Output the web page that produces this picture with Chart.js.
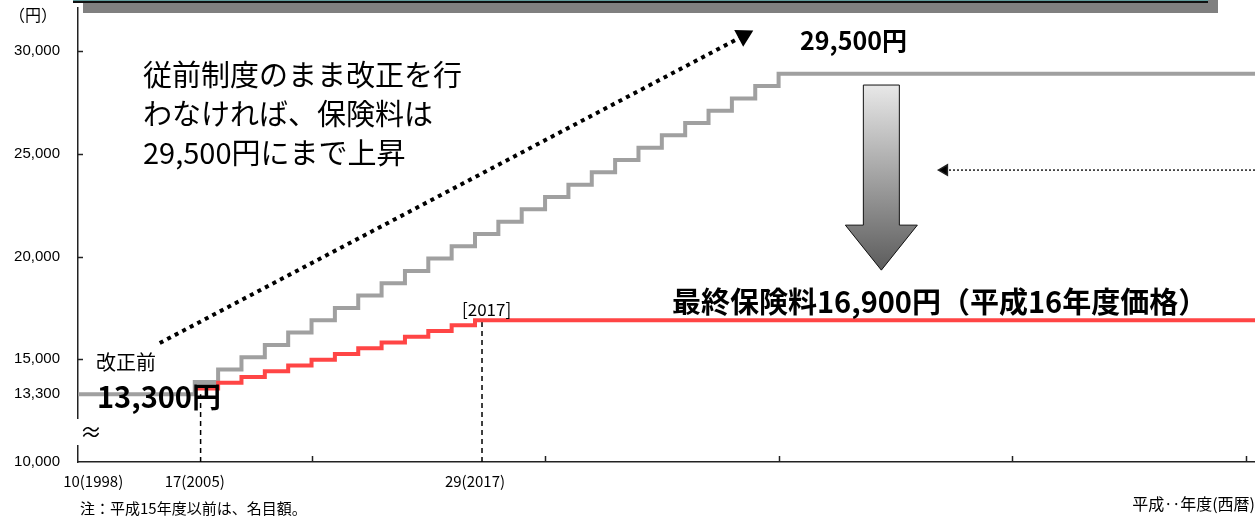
<!DOCTYPE html>
<html>
<head>
<meta charset="utf-8">
<title>保険料の推移</title>
<script src="https://cdn.jsdelivr.net/npm/chart.js"></script>
<style>
  html, body { margin: 0; padding: 0; background: #fff; overflow: hidden; }
  canvas { display: block; }
</style>
</head>
<body>
<canvas id="chart" width="1255" height="518"></canvas>
<script>
    // 従前制度 (改正しない場合) 年度ごとの保険料
    var oldYears  = [2000, 2005, 2006, 2007, 2008, 2009, 2010, 2011, 2012, 2013, 2014, 2015, 2016,
                     2017, 2018, 2019, 2020, 2021, 2022, 2023, 2024, 2025, 2026, 2027, 2028, 2029, 2030];
    var oldValues = [13300, 13900, 14500, 15100, 15700, 16300, 16900, 17500, 18100, 18700, 19300, 19900, 20500,
                     21100, 21700, 22300, 22900, 23500, 24100, 24700, 25300, 25900, 26500, 27100, 27700, 28300, 28900];

    // 改正後 年度ごとの保険料
    var newYears  = [2005, 2006, 2007, 2008, 2009, 2010, 2011, 2012, 2013, 2014, 2015, 2016, 2017];
    var newValues = [13580, 13860, 14140, 14420, 14700, 14980, 15260, 15540, 15820, 16100, 16380, 16660, 16900];

    // 軸
    var xEnd = 2050.4;
    var xTickPos = [2000.65, 2005, 2017];
    var xTickLabels = ['10(1998)', '17(2005)', '29(2017)'];
    var yTicks = [10000, 13300, 15000, 20000, 25000, 30000];

    var oldData = oldYears.map(function (y, i) { return {x: y, y: oldValues[i]}; });
    oldData.push({x: xEnd, y: oldValues[oldValues.length - 1]});
    var newData = newYears.map(function (y, i) { return {x: y, y: newValues[i]}; });
    newData.push({x: xEnd, y: newValues[newValues.length - 1]});

    var JP = '"Noto Sans CJK JP", "Noto Sans", sans-serif';

    var decor = {
        id: 'decor',
        beforeDraw: function (chart) {
            var c = chart.ctx;
            c.save();
            c.fillStyle = '#fff';
            c.fillRect(0, 0, chart.width, chart.height);
            // 上部の枠 (はみ出し部分)
            c.fillStyle = '#808080';
            c.fillRect(83, 0, 1135, 13);
            c.fillStyle = '#5f9a9a';
            c.fillRect(73, 0, 1135, 1);
            c.fillStyle = '#111';
            c.fillRect(73, 1, 1135, 2);
            c.restore();
        },
        afterDraw: function (chart) {
            var c = chart.ctx;
            var xs = chart.scales.x, ys = chart.scales.y;
            var a = chart.chartArea;
            c.save();

            // 内向きの目盛り
            c.strokeStyle = '#222';
            c.lineWidth = 1.5;
            [15000, 20000, 25000, 30000].forEach(function (v) {
                var py = Math.round(ys.getPixelForValue(v)) + 0.5;
                c.beginPath(); c.moveTo(a.left, py); c.lineTo(a.left + 5, py); c.stroke();
            });
            [2010, 2020, 2030, 2040, 2050].forEach(function (v) {
                var px = Math.round(xs.getPixelForValue(v)) + 0.5;
                c.beginPath(); c.moveTo(px, a.bottom); c.lineTo(px, a.bottom - 6); c.stroke();
            });

            // 軸の省略
            c.fillStyle = '#fff';
            c.fillRect(a.left - 4, 419, 8, 26);
            c.fillStyle = '#000';
            c.font = '22px ' + JP;
            c.textBaseline = 'middle';
            c.textAlign = 'left';
            c.fillText('≈', 80, 432);

            // 下向きの大きな矢印
            var cx = xs.getPixelForValue(2034.4);
            var top = ys.getPixelForValue(28350), neck = ys.getPixelForValue(21530), tip = ys.getPixelForValue(19340);
            var g = c.createLinearGradient(0, top, 0, tip);
            g.addColorStop(0, '#e8e8e8');
            g.addColorStop(1, '#5c5c5c');
            c.beginPath();
            c.moveTo(cx - 18, top); c.lineTo(cx + 18, top); c.lineTo(cx + 18, neck);
            c.lineTo(cx + 36, neck); c.lineTo(cx, tip); c.lineTo(cx - 36, neck);
            c.lineTo(cx - 18, neck); c.closePath();
            c.fillStyle = g; c.fill();
            c.strokeStyle = '#111'; c.lineWidth = 1; c.stroke();

            // 文字
            c.fillStyle = '#000';
            c.textAlign = 'left';
            c.textBaseline = 'middle';
            c.font = '16px ' + JP;
            c.fillText('（円）', 9, 15);

            c.font = '29px ' + JP;
            c.fillText('従前制度のまま改正を行', 143, 75);
            c.fillText('わなければ、保険料は', 143, 114);
            c.fillText('29,500円にまで上昇', 143, 153);

            c.font = 'bold 25px ' + JP;
            c.fillText('29,500円', 800, 40);

            c.font = 'bold 29px ' + JP;
            c.fillText('最終保険料16,900円（平成16年度価格）', 672, 302);

            c.font = '17px ' + JP;
            c.fillText('[2017]', 462, 310);

            c.font = '20px ' + JP;
            c.fillText('改正前', 96, 362);

            c.font = 'bold 29px ' + JP;
            c.fillText('13,300円', 97, 397);

            c.font = '15px ' + JP;
            c.fillText('注：平成15年度以前は、名目額。', 80, 508);

            c.restore();
        }
    };

    var ctx = document.getElementById('chart').getContext('2d');
    var chart = new Chart(ctx, {
        type: 'line',
        data: {
            datasets: [{
                label: '従前制度',
                data: oldData,
                borderColor: '#a0a0a0',
                borderWidth: 4,
                stepped: 'before',
                pointRadius: 0,
                order: 3
            }, {
                label: '改正後',
                data: newData,
                borderColor: '#ff4545',
                borderWidth: 4,
                stepped: 'before',
                pointRadius: 0,
                order: 2
            }, {
                label: '上昇',
                data: [{x: 2003.5, y: 15790}, {x: 2028.5, y: 30750}],
                borderColor: '#000',
                backgroundColor: '#000',
                borderWidth: 4,
                borderDash: [4, 4.5],
                borderCapStyle: 'butt',
                pointStyle: 'triangle',
                pointRadius: [0, 7],
                pointRotation: 62,
                order: 1
            }, {
                label: '矢印',
                data: [{x: xEnd, y: 24210}, {x: 2037.1, y: 24210}],
                borderColor: '#222',
                backgroundColor: '#000',
                borderWidth: 1.5,
                borderDash: [2, 2],
                pointStyle: 'triangle',
                pointRadius: [0, 6],
                pointRotation: 270,
                order: 1
            }, {
                label: '2005',
                data: [{x: 2005.25, y: 10000}, {x: 2005.25, y: 13300}],
                borderColor: '#000',
                borderWidth: 1.5,
                borderDash: [5, 4],
                pointRadius: 0,
                order: 4
            }, {
                label: '2017',
                data: [{x: 2017.3, y: 10000}, {x: 2017.3, y: 16900}],
                borderColor: '#000',
                borderWidth: 1.5,
                borderDash: [5, 4],
                pointRadius: 0,
                order: 4
            }]
        },
        options: {
            responsive: false,
            animation: false,
            layout: { autoPadding: false, padding: { top: 8, left: 0, right: 0, bottom: 0 } },
            plugins: {
                legend: { display: false },
                tooltip: { enabled: false }
            },
            scales: {
                x: {
                    type: 'linear',
                    min: 2000,
                    max: xEnd,
                    afterFit: function (s) {
                        s.height = 56;
                        s.paddingLeft = 0; s.paddingRight = 0;
                    },
                    afterBuildTicks: function (s) {
                        s.ticks = xTickPos.map(function (v) { return {value: v}; });
                    },
                    ticks: {
                        autoSkip: false,
                        maxRotation: 0,
                        padding: 10,
                        color: '#000',
                        font: { family: JP, size: 15 },
                        callback: function (v, i) { return xTickLabels[i]; }
                    },
                    grid: { display: false, drawTicks: false },
                    border: { display: true, color: '#222', width: 1.5 },
                    title: {
                        display: true,
                        text: '平成‥年度(西暦)',
                        align: 'end',
                        color: '#000',
                        font: { family: JP, size: 16 },
                        padding: { top: 0, bottom: 4 }
                    }
                },
                y: {
                    min: 10000,
                    max: 32100,
                    afterFit: function (s) {
                        s.width = 78;
                        s.paddingTop = 0; s.paddingBottom = 0;
                    },
                    afterBuildTicks: function (s) {
                        s.ticks = yTicks.map(function (v) { return {value: v}; });
                    },
                    ticks: {
                        padding: 18,
                        color: '#000',
                        font: { family: 'Liberation Sans, Arial, sans-serif', size: 15 },
                        callback: function (v) { return v.toLocaleString('en-US'); }
                    },
                    grid: { display: false, drawTicks: false },
                    border: { display: true, color: '#222', width: 1.5 }
                }
            }
        },
        plugins: [decor]
    });
</script>
</body>
</html>
